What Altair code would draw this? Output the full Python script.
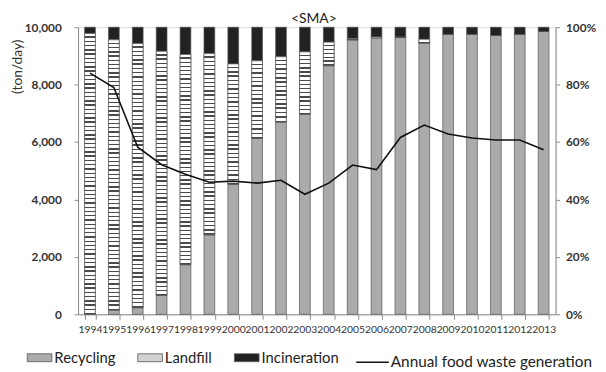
import altair as alt
import pandas as pd

# ---------------- data ----------------
years = ["1994", "1995", "1996", "1997", "1998", "1999", "2000", "2001", "2002", "2003",
         "2004", "2005", "2006", "2007", "2008", "2009", "2010", "2011", "2012", "2013"]
# treatment shares, % of total (stacked bottom -> top)
recycling = [0.0, 1.5, 2.3, 6.6, 17.3, 27.7, 45.3, 61.3, 67.0, 69.7,
             86.6, 95.6, 96.3, 96.4, 94.5, 97.5, 97.5, 97.1, 97.5, 98.5]
landfill = [97.8, 94.1, 92.0, 85.0, 73.2, 63.1, 41.9, 27.0, 22.7, 21.7,
            8.2, 0.4, 0.3, 0.2, 1.3, 0.0, 0.0, 0.0, 0.0, 0.0]
incineration = [2.2, 4.4, 5.7, 8.4, 9.5, 9.2, 12.8, 11.7, 10.3, 8.6,
                 5.2, 4.0, 3.4, 3.4, 4.2, 2.5, 2.5, 2.9, 2.5, 1.5]
# annual food waste generation, ton/day
generation = [8400, 7900, 5820, 5210, 4880, 4600, 4640, 4570, 4670, 4180,
              4570, 5200, 5040, 6160, 6590, 6280, 6140, 6070, 6070, 5730]
categories = ["Recycling", "Landfill", "Incineration"]
line_label = "Annual food waste generation"
pct_ticks = [0, 20, 40, 60, 80, 100]
ton_ticks = [0, 2000, 4000, 6000, 8000, 10000]

# ---------------- tables ----------------
rows = []
for i, yr in enumerate(years):
    base = 0.0
    for cat, vals in zip(categories, [recycling, landfill, incineration]):
        v = vals[i]
        if v > 0:
            rows.append({"year": yr, "cat": cat, "start": base, "end": base + v})
        base += v
bars_df = pd.DataFrame(rows)
line_df = pd.DataFrame({"year": years, "gen": generation,
                        "series": [line_label] * len(years)})

# ---------------- style ----------------
W, H = 484, 291
FONT = "Lato"
AXIS_GRAY = "#8a8a8a"
BAR_STROKE = "#555555"
CAT_COLORS = ["#ababab", "#d2d2d2", "#222222"]
LEGEND_Y = 322


def stripe_stops(h_px, period=4.3, dark_frac=0.33, light="#ffffff", dark="#4a4a4a"):
    n = max(1, int(round(h_px / period)))
    stops = []
    for k in range(n):
        a = k / n
        b = (k + 1 - dark_frac) / n
        c = min(1.0, (k + 1) / n)
        stops += [(a, light), (b, light), (b, dark), (c, dark)]
    return stops


def stripes(h_px):
    return alt.LinearGradient(
        gradient="linear",
        stops=[alt.GradientStop(offset=o, color=c) for o, c in stripe_stops(h_px)],
        x1=0, x2=0, y1=0, y2=1)


x_enc = alt.X(
    "year:N", sort=years, title=None,
    scale=alt.Scale(type="band", paddingInner=0.55, paddingOuter=0.275),
    axis=alt.Axis(labelAngle=0, tickBand="extent", labelFont=FONT, labelFontSize=10.5,
                  labelColor="#333333", labelOverlap=False, labelPadding=5, tickSize=5,
                  domainColor=AXIS_GRAY, tickColor=AXIS_GRAY, labelFlush=False,
                  grid=False),
)
pct_axis = alt.Axis(orient="right", values=pct_ticks, labelExpr="datum.value + '%'",
                    grid=False, tickSize=4, labelPadding=6, labelFont=FONT,
                    labelFontSize=12, labelFontWeight="bold", labelColor="#333333",
                    domainColor=AXIS_GRAY, tickColor=AXIS_GRAY, title=None)
pct_scale = alt.Scale(domain=[0, 100], nice=False)

legend_kw = dict(orient="none", legendX=-52, legendY=LEGEND_Y, direction="horizontal",
                 title=None, symbolType="M-1,-0.32H1V0.32H-1Z", symbolSize=625,
                 symbolStrokeColor=BAR_STROKE, symbolStrokeWidth=0.8,
                 symbolOpacity=1, labelFont=FONT, labelFontSize=15,
                 labelColor="#222222", labelOffset=2, columnPadding=20,
                 padding=0, labelLimit=300)

base_bars = alt.Chart(bars_df).mark_bar(stroke=BAR_STROKE, strokeWidth=0.7).encode(
    x=x_enc,
    y=alt.Y("start:Q", scale=pct_scale, axis=pct_axis),
    y2="end:Q",
    color=alt.Color(
        "cat:N",
        scale=alt.Scale(domain=categories, range=CAT_COLORS),
        legend=alt.Legend(**legend_kw),
    ),
)
layers = [base_bars]
for i, yr in enumerate(years):
    if landfill[i] > 0:
        h_px = landfill[i] / 100.0 * H
        layers.append(
            alt.Chart(bars_df)
            .transform_filter(f"datum.year == '{yr}' && datum.cat == 'Landfill'")
            .mark_bar(fill=stripes(h_px), stroke=BAR_STROKE, strokeWidth=0.7)
            .encode(x=x_enc, y=alt.Y("start:Q", scale=pct_scale, axis=pct_axis),
                    y2="end:Q")
        )
bars = alt.layer(*layers)

line = alt.Chart(line_df).mark_line(strokeWidth=1.6).encode(
    x=x_enc,
    y=alt.Y("gen:Q", scale=alt.Scale(domain=[0, 10000], nice=False),
            axis=alt.Axis(orient="left", values=ton_ticks, format=",.0f", grid=False,
                          tickSize=4, labelPadding=13, labelFont=FONT,
                          labelFontSize=12, labelFontWeight="bold",
                          labelColor="#333333",
                          domainColor=AXIS_GRAY, tickColor=AXIS_GRAY,
                          title="(ton/day)", titleFont=FONT, titleFontSize=14,
                          titleFontWeight="normal", titleColor="#333333",
                          titleAlign="right", titleAngle=270, titleBaseline="bottom",
                          titleX=-54, titleY=12)),
    stroke=alt.Stroke(
        "series:N",
        scale=alt.Scale(domain=[line_label], range=["#111111"]),
        legend=alt.Legend(orient="none", legendX=281, legendY=LEGEND_Y, title=None,
                          symbolType="stroke", symbolSize=1089,
                          symbolStrokeWidth=1.6,
                          labelFont=FONT, labelFontSize=15.5, labelColor="#222222",
                          labelOffset=1, padding=0, labelLimit=400),
    ),
)

chart = (
    alt.layer(bars, line)
    .resolve_scale(y="independent")
    .properties(
        width=W, height=H,
        title=alt.TitleParams("<SMA>", font=FONT, fontSize=14, fontWeight="normal",
                              color="#222222", offset=3, dx=-3, dy=8),
        autosize=alt.AutoSizeParams(type="none"),
        padding={"left": 71, "top": 17, "right": 43, "bottom": 56},
    )
    .configure_view(stroke=None)
    .configure(background="white")
)

chart.save("out.html", embed_options={"renderer": "svg", "actions": False})
